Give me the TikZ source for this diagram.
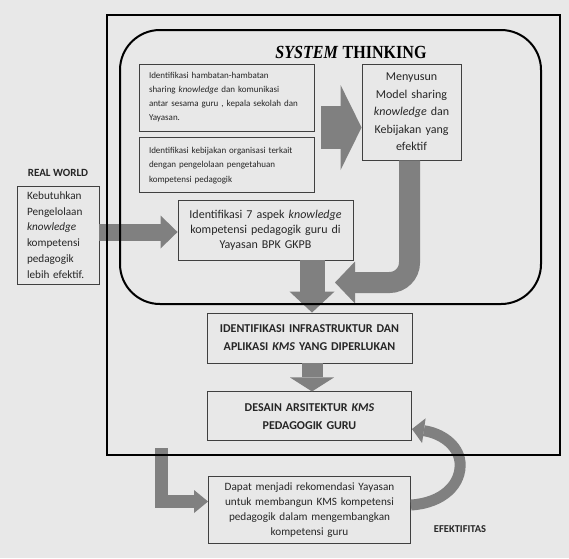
\documentclass[tikz,border=0pt]{standalone}
\usepackage{fontspec}
\setmainfont{Carlito}
\newfontfamily\titlefont{Liberation Serif}
\usetikzlibrary{positioning}
\usetikzlibrary{arrows.meta}
\definecolor{bggray}{HTML}{E8E8E8}
\definecolor{fatgray}{HTML}{808080}
\definecolor{boxline}{HTML}{404040}
\definecolor{inkgray}{HTML}{262626}

\begin{document}
\begin{tikzpicture}[x=1pt,y=-1pt,
  fbox/.style={draw=boxline, fill=bggray, line width=0.9pt, inner ysep=0pt, text=inkgray},
  leftbox/.style={fbox, inner xsep=10pt, align=left},
  midbox/.style={fbox, inner xsep=4pt, align=center},
  fat/.style={draw=fatgray, line width=#1, line join=miter},
  tag/.style={text=inkgray, font=\bfseries\fontsize{#1}{12}\selectfont},
  ]
  \useasboundingbox[fill=bggray] (0,0) rectangle (569,558);

  % system thinking part
  \node[font=\titlefont\bfseries\fontsize{18.5}{20}\selectfont] (title) at (351,52) {\scalebox{0.87}[1]{\textit{SYSTEM} THINKING}};
  \node[leftbox, text width=155pt, minimum height=67pt, font=\fontsize{9}{14}\selectfont] (hambatan) at (226.5,97.5)
    {Identifikasi hambatan-hambatan\\ sharing \textit{knowledge} dan komunikasi\\ antar sesama guru , kepala sekolah dan\\ Yayasan.};
  \node[leftbox, text width=155pt, minimum height=55pt, font=\fontsize{9}{14.5}\selectfont, below=6pt of hambatan] (kebijakan)
    {Identifikasi kebijakan organisasi terkait\\ dengan pengelolaan pengetahuan\\ kompetensi pedagogik};
  \node[midbox, text width=91pt, minimum height=96pt, font=\fontsize{12}{17.5}\selectfont] (model) at (411.5,112)
    {Menyusun\\ Model sharing\\ \textit{knowledge} dan\\ Kebijakan yang\\ efektif};
  \node[midbox, text width=167pt, minimum height=60pt, font=\fontsize{12}{15}\selectfont] (aspek) at (265.5,230)
    {Identifikasi 7 aspek \textit{knowledge}\\ kompetensi pedagogik guru di\\ Yayasan BPK GKPB};

  % real world
  \node[tag=11] (realworld) at (58,173) {REAL WORLD};
  \node[leftbox, text width=62pt, minimum height=98pt, font=\fontsize{11.2}{15.8}\selectfont] (kebutuhan) at (58,235)
    {Kebutuhkan\\ Pengelolaan\\ \textit{knowledge}\\ kompetensi\\ pedagogik\\ lebih efektif.};

  % kms boxes
  \node[midbox, text width=197pt, minimum height=50pt, font=\bfseries\fontsize{12}{18}\selectfont] (infra) at (309.5,338)
    {IDENTIFIKASI INFRASTRUKTUR DAN\\ APLIKASI \textit{KMS} YANG DIPERLUKAN};
  \node[midbox, text width=196pt, minimum height=49pt, font=\bfseries\fontsize{12}{18}\selectfont, below=28pt of infra] (desain)
    {DESAIN ARSITEKTUR \textit{KMS}\\ PEDAGOGIK GURU};
  \node[midbox, text width=194pt, minimum height=67pt, font=\fontsize{11.2}{15}\selectfont, below=35pt of desain] (rekom)
    {Dapat menjadi rekomendasi Yayasan\\ untuk membangun KMS kompetensi\\ pedagogik dalam mengembangkan\\ kompetensi guru};
  \node[tag=10.5] (efek) at (460,529) {EFEKTIFITAS};

  \coordinate (uturn) at (409.5,0);
  \coordinate (ltop) at (161.5,448);

  % block arrows
  \draw[fat=43pt, -{Triangle[width=85pt,length=21pt,line width=0pt]}] ([xshift=7pt]hambatan.east |- 0,127.5) -- (model.west |- 0,127.5);
  \draw[fat=17pt, -{Triangle[width=33pt,length=17pt,line width=0pt]}] (kebutuhan.east |- 0,232) -- (aspek.west |- 0,232);
  \draw[fat=25pt, -{Triangle[width=45pt,length=21pt,line width=0pt]}] (aspek.south -| 312,0) -- (infra.north -| 312,0);
  \draw[fat=21pt, rounded corners=20pt, -{Triangle[width=42pt,length=20pt,line width=0pt]}] (model.south -| uturn) |- (335,282.5);
  \draw[fat=21pt, -{Triangle[width=44pt,length=14pt,line width=0pt]}] (infra.south -| 312,0) -- (desain.north -| 312,0);
  \draw[fat=13pt, -{Triangle[width=23pt,length=14pt,line width=0pt]}] (ltop) |- (rekom.west |- 0,501.5);
  \draw[fat=11pt, -{Triangle[width=25pt,length=12pt,line width=0pt]}] (rekom.east |- 0,505)
    .. controls (443,503) and (462,484) .. (460,462)
    .. controls (458,444) and (440,433) .. (desain.east |- 0,429);

  % frames
  \draw[line width=2.5pt] (107,15) rectangle (560,455);
  \draw[line width=2pt, rounded corners=40pt] (120,30) rectangle (541,304);
\end{tikzpicture}
\end{document}
